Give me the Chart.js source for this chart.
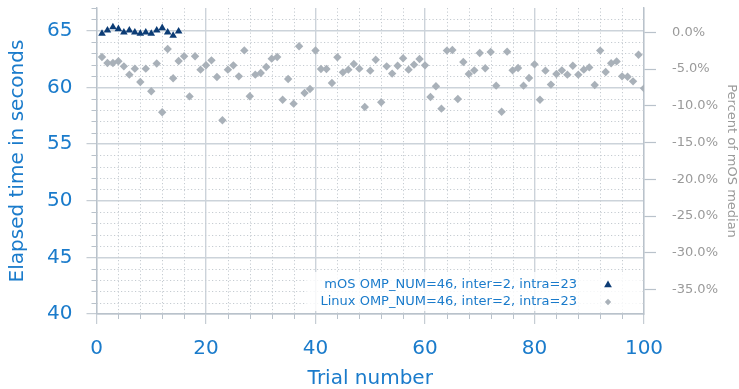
<!DOCTYPE html>
<html>
<head>
<meta charset="utf-8">
<script src="https://cdn.jsdelivr.net/npm/chart.js@4.4.1/dist/chart.umd.min.js"></script>
<style>
    html, body { margin: 0; padding: 0; background: #fff; }
    #wrap { width: 739px; height: 389px; position: relative; }
</style>
</head>
<body>
<div id="wrap"><canvas id="canvas"></canvas></div>
<script>
// elapsed seconds per trial, mOS runs (trials 1-15)
const mosTimes = [
    64.74, 65.03, 65.32, 65.15, 64.85, 65.03, 64.85, 64.74, 64.85, 64.74,
    65.03, 65.24, 64.85, 64.56, 64.94,
];

// elapsed seconds per trial, Linux runs (trials 1-100)
const linuxTimes = [
    62.68, 62.15, 62.15, 62.30, 61.85, 61.12, 61.65, 60.47, 61.65, 59.65,
    62.10, 57.80, 63.38, 60.80, 62.32, 62.74, 59.20, 62.74, 61.56, 61.95,
    62.38, 60.91, 57.09, 61.56, 61.94, 60.97, 63.26, 59.21, 61.12, 61.26,
    61.79, 62.53, 62.68, 58.91, 60.74, 58.56, 63.62, 59.50, 59.85, 63.25,
    61.62, 61.62, 60.38, 62.65, 61.32, 61.56, 62.06, 61.65, 58.26, 61.47,
    62.44, 58.68, 61.85, 61.21, 61.91, 62.56, 61.56, 62.00, 62.50, 61.94,
    59.15, 60.09, 58.12, 63.24, 63.29, 58.97, 62.24, 61.18, 61.50, 63.03,
    61.68, 63.12, 60.15, 57.85, 63.15, 61.50, 61.71, 60.15, 60.82, 62.03,
    58.91, 61.47, 60.24, 61.18, 61.50, 61.12, 61.91, 61.12, 61.56, 61.76,
    60.21, 63.24, 61.35, 62.12, 62.29, 60.97, 60.94, 60.53, 62.88, 59.91,
];

const seriesLabels = [
    'mOS OMP_NUM=46, inter=2, intra=23',
    'Linux OMP_NUM=46, inter=2, intra=23',
];

const timeMin = 40;
const timeMax = 67;
const trialMin = 0;
const trialMax = 100;

const colors = {
    mos: '#0c3c75',
    linux: '#a9b1b9',
    blue: '#1a7bcb',
    grey: '#9a9a9a',
    grid: '#ccd3da',
    minor: '#c5cbd1',
    spine: '#b9c2cb',
};

const font = 'DejaVu Sans';

function median(values) {
    const sorted = [...values].sort((a, b) => a - b);
    const mid = Math.floor(sorted.length / 2);
    return sorted.length % 2 ? sorted[mid] : (sorted[mid - 1] + sorted[mid]) / 2;
}

const mosMedian = median(mosTimes);
const toPercent = v => (v / mosMedian - 1) * 100;

const toPoints = values => values.map((v, i) => ({x: i + 1, y: v}));

// fixed axis boxes so the plot area lands where it should
const fixWidth = w => scale => {
    scale.width = w;
    scale.paddingTop = 0;
    scale.paddingBottom = 0;
};

// dotted minor grid plus the short minor ticks on the left and bottom axes
const minorGrid = {
    id: 'minorGrid',
    beforeDatasetsDraw(chart) {
        const {ctx, chartArea: area, scales} = chart;
        ctx.save();
        ctx.lineWidth = 1;
        ctx.strokeStyle = colors.minor;
        ctx.setLineDash([1.2, 2.3]);
        for (let v = timeMin + 1; v < timeMax; v++) {
            if (v % 5 === 0) continue;
            const y = Math.round(scales.y.getPixelForValue(v)) + 0.5;
            ctx.beginPath();
            ctx.moveTo(area.left, y);
            ctx.lineTo(area.right, y);
            ctx.stroke();
        }
        for (let v = trialMin + 4; v < trialMax; v += 4) {
            if (v % 20 === 0) continue;
            const x = Math.round(scales.x.getPixelForValue(v)) + 0.5;
            ctx.beginPath();
            ctx.moveTo(x, area.top);
            ctx.lineTo(x, area.bottom);
            ctx.stroke();
        }
        ctx.setLineDash([]);
        ctx.strokeStyle = colors.spine;
        for (let v = timeMin + 1; v <= timeMax; v++) {
            if (v % 5 === 0) continue;
            const y = Math.round(scales.y.getPixelForValue(v)) + 0.5;
            ctx.beginPath();
            ctx.moveTo(area.left - 5, y);
            ctx.lineTo(area.left, y);
            ctx.stroke();
        }
        for (let v = trialMin + 4; v < trialMax; v += 4) {
            if (v % 20 === 0) continue;
            const x = Math.round(scales.x.getPixelForValue(v)) + 0.5;
            ctx.beginPath();
            ctx.moveTo(x, area.bottom);
            ctx.lineTo(x, area.bottom + 5);
            ctx.stroke();
        }
        ctx.restore();
    }
};

// legend box sitting in the lower right corner of the plot, markers after the text
const insideLegend = {
    id: 'insideLegend',
    afterDatasetsDraw(chart) {
        const {ctx, chartArea: area} = chart;
        const x0 = area.left + 210;
        const y0 = area.bottom - 42;
        ctx.save();
        ctx.fillStyle = 'rgba(255,255,255,0.82)';
        ctx.fillRect(x0, y0, area.right - 4 - x0, 39);
        ctx.font = '13px "' + font + '"';
        ctx.textAlign = 'right';
        ctx.textBaseline = 'middle';
        chart.data.datasets.forEach((ds, i) => {
            const y = area.bottom - 29 + i * 17;
            ctx.fillStyle = colors.blue;
            ctx.fillText(ds.label, area.right - 67, y);
            ctx.fillStyle = ds.backgroundColor;
            Chart.helpers.drawPoint(ctx, {
                pointStyle: ds.pointStyle,
                radius: i === 0 ? 4.5 : 3.2,
                rotation: 0,
                borderWidth: 0,
            }, area.right - 36, y);
        });
        ctx.restore();
    }
};

const ctx = document.getElementById('canvas');
new Chart(ctx, {
    type: 'scatter',
    data: {
        datasets: [
            {
                label: seriesLabels[0],
                data: toPoints(mosTimes),
                pointStyle: 'triangle',
                pointRadius: 4.4,
                backgroundColor: colors.mos,
                borderColor: colors.mos,
                borderWidth: 0,
            },
            {
                label: seriesLabels[1],
                data: toPoints(linuxTimes),
                pointStyle: 'rectRot',
                pointRadius: 4.2,
                backgroundColor: colors.linux,
                borderColor: colors.linux,
                borderWidth: 0,
            },
        ],
    },
    options: {
        responsive: true,
        maintainAspectRatio: false,
        animation: false,
        layout: {
            padding: {top: 8, left: 0, right: 0, bottom: 0},
        },
        plugins: {
            legend: {display: false},
            tooltip: {enabled: false},
        },
        scales: {
            x: {
                type: 'linear',
                position: 'bottom',
                min: trialMin,
                max: trialMax,
                afterFit: scale => {
                    scale.height = 75;
                    scale.paddingLeft = 0;
                    scale.paddingRight = 0;
                },
                ticks: {
                    stepSize: 20,
                    includeBounds: false,
                    padding: 13,
                    color: colors.blue,
                    font: {family: font, size: 20},
                },
                grid: {
                    color: colors.grid,
                    lineWidth: 1.4,
                    tickLength: 10,
                    tickColor: colors.spine,
                    tickWidth: 1,
                },
                border: {color: colors.spine, width: 1.4},
                title: {
                    display: true,
                    text: 'Trial number',
                    color: colors.blue,
                    font: {family: font, size: 20, lineHeight: 1},
                    padding: 0,
                },
            },
            y: {
                type: 'linear',
                position: 'left',
                min: timeMin,
                max: timeMax,
                afterFit: fixWidth(96.5),
                ticks: {
                    stepSize: 5,
                    includeBounds: false,
                    padding: 14,
                    color: colors.blue,
                    font: {family: font, size: 20},
                },
                grid: {
                    color: colors.grid,
                    lineWidth: 1.4,
                    tickLength: 10,
                    tickColor: colors.spine,
                    tickWidth: 1,
                },
                border: {color: colors.spine, width: 1.4},
                title: {
                    display: true,
                    text: 'Elapsed time in seconds',
                    color: colors.blue,
                    font: {family: font, size: 20},
                    padding: {top: 5.5, bottom: 0},
                },
            },
            y2: {
                type: 'linear',
                position: 'right',
                min: toPercent(timeMin),
                max: toPercent(timeMax),
                afterFit: fixWidth(95),
                ticks: {
                    stepSize: 5,
                    includeBounds: false,
                    padding: 16,
                    color: colors.grey,
                    font: {family: font, size: 13},
                    callback: value => value.toFixed(1) + '%',
                },
                grid: {
                    drawOnChartArea: false,
                    tickLength: 12,
                    tickColor: colors.spine,
                    tickWidth: 1.2,
                },
                border: {color: colors.spine, width: 1.4},
                title: {
                    display: true,
                    text: 'Percent of mOS median',
                    color: colors.grey,
                    font: {family: font, size: 13},
                    padding: {top: 0, bottom: 0},
                },
            },
        },
    },
    plugins: [minorGrid, insideLegend],
});
</script>
</body>
</html>
